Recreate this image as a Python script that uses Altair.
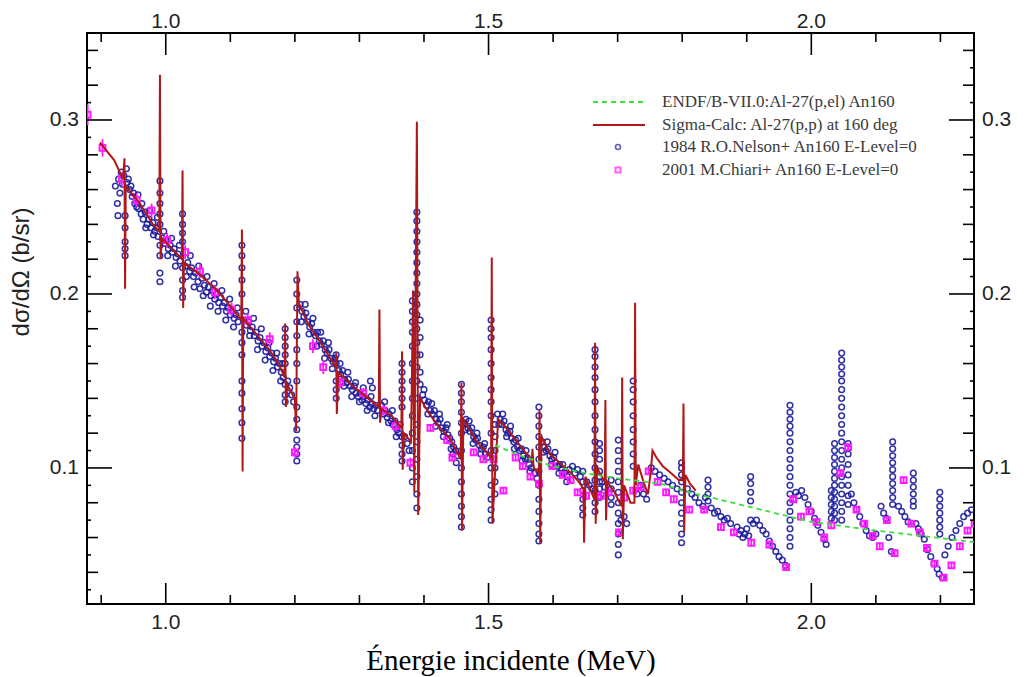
import altair as alt
import pandas as pd

# ---------------- axes / ticks ----------------
x_domain = [0.878, 2.252]
y_domain = [0.0218, 0.35]
x_major = [1.0, 1.5, 2.0]
x_labels = ["1.0", "1.5", "2.0"]
x_minor = [0.9, 1.1, 1.2, 1.3, 1.4, 1.6, 1.7, 1.8, 1.9, 2.1, 2.2]
y_major = [0.1, 0.2, 0.3]
y_labels = ["0.1", "0.2", "0.3"]
y_mid = [0.04, 0.06, 0.08, 0.12, 0.14, 0.16, 0.18, 0.22, 0.24, 0.26, 0.28, 0.32, 0.34]
y_small = [0.03, 0.05, 0.07, 0.09, 0.11, 0.13, 0.15, 0.17, 0.19, 0.21, 0.23, 0.25,
           0.27, 0.29, 0.31, 0.33]

# ---------------- ENDF/B-VII.0 (green dashed) ----------------
endf_E = [1.51, 1.55, 1.60, 1.65, 1.70, 1.767, 1.80, 1.90, 2.00, 2.10, 2.17, 2.26]
endf_s = [0.113, 0.107, 0.101, 0.097, 0.094, 0.091, 0.087, 0.078, 0.069, 0.064, 0.061, 0.057]

# ---------------- Sigma-Calc (red line) ----------------
sigma_pts = [
    (0.898, 0.287), (0.920, 0.277), (0.934, 0.266), (0.936, 0.278), (0.937, 0.203),
    (0.938, 0.262), (0.960, 0.252), (0.980, 0.240), (0.990, 0.236), (0.991, 0.326),
    (0.992, 0.220), (0.994, 0.232), (1.010, 0.226), (1.025, 0.220), (1.026, 0.271),
    (1.027, 0.192), (1.028, 0.218), (1.050, 0.212), (1.080, 0.202), (1.100, 0.193),
    (1.117, 0.185), (1.118, 0.237), (1.119, 0.098), (1.120, 0.186), (1.140, 0.177),
    (1.160, 0.168), (1.175, 0.160), (1.184, 0.152), (1.185, 0.183), (1.186, 0.135),
    (1.188, 0.148), (1.195, 0.143), (1.200, 0.140), (1.202, 0.121), (1.204, 0.213),
    (1.206, 0.195), (1.220, 0.183), (1.240, 0.172), (1.263, 0.158), (1.264, 0.166),
    (1.265, 0.131), (1.267, 0.155), (1.290, 0.147), (1.310, 0.141), (1.330, 0.135),
    (1.331, 0.191), (1.332, 0.126), (1.334, 0.134), (1.350, 0.130), (1.365, 0.123),
    (1.366, 0.167), (1.367, 0.099), (1.369, 0.120), (1.380, 0.115), (1.383, 0.202),
    (1.385, 0.086), (1.389, 0.299), (1.391, 0.073), (1.394, 0.140), (1.405, 0.133),
    (1.420, 0.125), (1.440, 0.117), (1.457, 0.105), (1.458, 0.149), (1.459, 0.064),
    (1.461, 0.128), (1.480, 0.116), (1.504, 0.106), (1.505, 0.221), (1.506, 0.068),
    (1.509, 0.090), (1.515, 0.128), (1.525, 0.124), (1.540, 0.117), (1.555, 0.110),
    (1.567, 0.104), (1.568, 0.111), (1.570, 0.100), (1.578, 0.097), (1.579, 0.133),
    (1.580, 0.057), (1.582, 0.118), (1.595, 0.108), (1.610, 0.103), (1.625, 0.098),
    (1.640, 0.092), (1.647, 0.088), (1.648, 0.057), (1.650, 0.095), (1.655, 0.090),
    (1.664, 0.082), (1.665, 0.172), (1.666, 0.068), (1.668, 0.100), (1.680, 0.092),
    (1.681, 0.139), (1.682, 0.070), (1.684, 0.092), (1.695, 0.086), (1.706, 0.078),
    (1.707, 0.152), (1.708, 0.059), (1.710, 0.090), (1.720, 0.080), (1.726, 0.080),
    (1.727, 0.195), (1.728, 0.090), (1.732, 0.102), (1.740, 0.092), (1.747, 0.085),
    (1.751, 0.097), (1.754, 0.110), (1.760, 0.106), (1.770, 0.101), (1.783, 0.097),
    (1.795, 0.093), (1.801, 0.093), (1.802, 0.137), (1.803, 0.063), (1.805, 0.096),
    (1.812, 0.091), (1.821, 0.087),
]

# ---------------- 1984 R.O.Nelson (blue open circles) ----------------
nelson_scatter = [
    (0.922, 0.262), (0.925, 0.252), (0.926, 0.245), (0.927, 0.266), (0.929, 0.258),
    (0.931, 0.270), (0.933, 0.263), (0.935, 0.268), (0.939, 0.272), (0.940, 0.264),
    (0.942, 0.266), (0.944, 0.260), (0.946, 0.262), (0.948, 0.256), (0.950, 0.258),
    (0.952, 0.252), (0.955, 0.250), (0.958, 0.249), (0.962, 0.246), (0.965, 0.243),
    (0.968, 0.247), (0.971, 0.240), (0.974, 0.243), (0.977, 0.238), (0.980, 0.241),
    (0.983, 0.236), (0.986, 0.238), (0.988, 0.233), (0.995, 0.232), (0.998, 0.229),
    (1.001, 0.231), (1.004, 0.226), (1.007, 0.228), (1.010, 0.224), (1.013, 0.226),
    (1.016, 0.221), (1.019, 0.223), (1.022, 0.219), (1.030, 0.216), (1.034, 0.218),
    (1.037, 0.213), (1.040, 0.215), (1.043, 0.210), (1.046, 0.212), (1.050, 0.207),
    (1.053, 0.203), (1.056, 0.209), (1.060, 0.205), (1.063, 0.201), (1.066, 0.204),
    (1.070, 0.199), (1.073, 0.202), (1.076, 0.197), (1.079, 0.200), (1.082, 0.195),
    (1.085, 0.198), (1.088, 0.193), (1.091, 0.195), (1.094, 0.190), (1.097, 0.192),
    (1.100, 0.188), (1.103, 0.190), (1.106, 0.186), (1.109, 0.188), (1.112, 0.184),
    (1.122, 0.185), (1.125, 0.182), (1.128, 0.184), (1.131, 0.179), (1.134, 0.181),
    (1.137, 0.176), (1.140, 0.178), (1.143, 0.173), (1.146, 0.175), (1.149, 0.170),
    (1.152, 0.172), (1.155, 0.167), (1.158, 0.169), (1.161, 0.164), (1.164, 0.166),
    (1.167, 0.161), (1.170, 0.163), (1.173, 0.158), (1.176, 0.160), (1.179, 0.155),
    (1.182, 0.152), (1.189, 0.150), (1.192, 0.146), (1.195, 0.142), (1.198, 0.138),
    (1.208, 0.194), (1.211, 0.190), (1.214, 0.187), (1.217, 0.189), (1.220, 0.184),
    (1.223, 0.181), (1.226, 0.183), (1.229, 0.178), (1.232, 0.176), (1.235, 0.178),
    (1.238, 0.173), (1.241, 0.171), (1.244, 0.173), (1.247, 0.168), (1.250, 0.166),
    (1.253, 0.168), (1.256, 0.163), (1.259, 0.161), (1.262, 0.163), (1.268, 0.156),
    (1.271, 0.154), (1.274, 0.156), (1.277, 0.151), (1.280, 0.149), (1.283, 0.151),
    (1.286, 0.147), (1.289, 0.145), (1.292, 0.147), (1.295, 0.143), (1.298, 0.141),
    (1.301, 0.143), (1.304, 0.139), (1.307, 0.141), (1.310, 0.137), (1.313, 0.139),
    (1.316, 0.135), (1.317, 0.150), (1.319, 0.137), (1.320, 0.146), (1.322, 0.134),
    (1.325, 0.136), (1.328, 0.133), (1.334, 0.136), (1.337, 0.131), (1.340, 0.133),
    (1.343, 0.129), (1.346, 0.131), (1.349, 0.127), (1.352, 0.125), (1.355, 0.127),
    (1.358, 0.122), (1.361, 0.120), (1.370, 0.118), (1.374, 0.114), (1.377, 0.110),
    (1.398, 0.142), (1.401, 0.139), (1.404, 0.136), (1.407, 0.138), (1.410, 0.133),
    (1.413, 0.131), (1.416, 0.133), (1.419, 0.128), (1.422, 0.126), (1.425, 0.128),
    (1.428, 0.123), (1.431, 0.121), (1.434, 0.123), (1.437, 0.119), (1.440, 0.117),
    (1.443, 0.115), (1.445, 0.108), (1.446, 0.112), (1.449, 0.110), (1.450, 0.103),
    (1.452, 0.107), (1.462, 0.126), (1.465, 0.128), (1.468, 0.123), (1.471, 0.121),
    (1.474, 0.123), (1.477, 0.118), (1.480, 0.116), (1.483, 0.117), (1.486, 0.113),
    (1.489, 0.111), (1.492, 0.112), (1.495, 0.108), (1.498, 0.106), (1.514, 0.131),
    (1.518, 0.128), (1.521, 0.125), (1.524, 0.127), (1.527, 0.122), (1.530, 0.120),
    (1.533, 0.121), (1.536, 0.117), (1.539, 0.115), (1.542, 0.116), (1.545, 0.112),
    (1.548, 0.110), (1.551, 0.111), (1.554, 0.107), (1.557, 0.105), (1.560, 0.106),
    (1.563, 0.102), (1.566, 0.100), (1.572, 0.097), (1.575, 0.094), (1.583, 0.115),
    (1.586, 0.112), (1.589, 0.110), (1.592, 0.111), (1.595, 0.107), (1.598, 0.105),
    (1.601, 0.106), (1.604, 0.103), (1.607, 0.101), (1.610, 0.102), (1.613, 0.099),
    (1.616, 0.097), (1.619, 0.098), (1.622, 0.095), (1.625, 0.099), (1.630, 0.101),
    (1.634, 0.097), (1.638, 0.099), (1.642, 0.095), (1.652, 0.092), (1.656, 0.090),
    (1.660, 0.088), (1.676, 0.092), (1.680, 0.089), (1.705, 0.070), (1.710, 0.072),
    (1.714, 0.068), (1.730, 0.085), (1.735, 0.090), (1.740, 0.085), (1.745, 0.082),
    (1.752, 0.100), (1.758, 0.098), (1.765, 0.096), (1.772, 0.094), (1.778, 0.092),
    (1.785, 0.090), (1.792, 0.088), (1.808, 0.088), (1.815, 0.085), (1.820, 0.083),
    (1.826, 0.080), (1.832, 0.078), (1.836, 0.083), (1.845, 0.077), (1.850, 0.074),
    (1.855, 0.075), (1.860, 0.072), (1.865, 0.070), (1.870, 0.071), (1.875, 0.068),
    (1.885, 0.066), (1.888, 0.062), (1.891, 0.064), (1.894, 0.060), (1.897, 0.062),
    (1.900, 0.065), (1.903, 0.061), (1.910, 0.068), (1.915, 0.070), (1.920, 0.067),
    (1.925, 0.064), (1.930, 0.062), (1.935, 0.058), (1.940, 0.055), (1.945, 0.052),
    (1.950, 0.049), (1.955, 0.047), (1.960, 0.044), (1.972, 0.082), (1.976, 0.086),
    (1.980, 0.084), (1.985, 0.087), (1.990, 0.083), (1.995, 0.079), (2.000, 0.075),
    (2.005, 0.071), (2.010, 0.067), (2.015, 0.063), (2.020, 0.059), (2.023, 0.056),
    (2.062, 0.085), (2.066, 0.080), (2.070, 0.076), (2.075, 0.072), (2.080, 0.068),
    (2.085, 0.064), (2.090, 0.061), (2.095, 0.060), (2.100, 0.062), (2.108, 0.078),
    (2.112, 0.074), (2.116, 0.071), (2.120, 0.060), (2.124, 0.052), (2.135, 0.078),
    (2.140, 0.075), (2.145, 0.072), (2.150, 0.069), (2.162, 0.068), (2.166, 0.065),
    (2.170, 0.062), (2.175, 0.059), (2.180, 0.053), (2.185, 0.049), (2.190, 0.045),
    (2.195, 0.042), (2.198, 0.039), (2.203, 0.037), (2.207, 0.050), (2.212, 0.055),
    (2.218, 0.060), (2.224, 0.064), (2.230, 0.068), (2.236, 0.072), (2.242, 0.074),
    (2.248, 0.076),
]
# points at the edges of the thick data band
nelson_band = [
    (0.957, 0.257), (0.963, 0.252), (0.969, 0.238), (0.975, 0.248), (0.981, 0.234),
    (0.987, 0.244), (0.997, 0.236), (1.003, 0.222), (1.009, 0.232), (1.015, 0.216),
    (1.021, 0.228), (1.032, 0.210), (1.038, 0.222), (1.044, 0.204), (1.051, 0.216),
    (1.058, 0.199), (1.064, 0.210), (1.069, 0.193), (1.075, 0.206), (1.081, 0.190),
    (1.087, 0.202), (1.093, 0.185), (1.099, 0.197), (1.105, 0.181), (1.111, 0.192),
    (1.124, 0.190), (1.130, 0.176), (1.136, 0.186), (1.142, 0.168), (1.148, 0.180),
    (1.154, 0.162), (1.160, 0.172), (1.166, 0.156), (1.172, 0.166), (1.178, 0.150),
    (1.181, 0.160), (1.210, 0.184), (1.216, 0.194), (1.222, 0.177), (1.228, 0.186),
    (1.234, 0.170), (1.240, 0.178), (1.246, 0.163), (1.252, 0.172), (1.258, 0.157),
    (1.270, 0.160), (1.276, 0.147), (1.282, 0.155), (1.288, 0.141), (1.294, 0.149),
    (1.300, 0.138), (1.306, 0.146), (1.312, 0.133), (1.318, 0.141), (1.324, 0.130),
    (1.339, 0.138), (1.345, 0.126), (1.351, 0.133), (1.357, 0.118), (1.363, 0.125),
    (1.400, 0.145), (1.406, 0.131), (1.412, 0.137), (1.418, 0.124), (1.424, 0.131),
    (1.430, 0.118), (1.436, 0.125), (1.442, 0.111), (1.464, 0.122), (1.470, 0.127),
    (1.476, 0.114), (1.482, 0.120), (1.488, 0.108), (1.494, 0.114), (1.516, 0.125),
    (1.522, 0.131), (1.528, 0.118), (1.534, 0.124), (1.540, 0.111), (1.546, 0.117),
    (1.552, 0.104), (1.558, 0.110), (1.564, 0.098), (1.585, 0.109), (1.591, 0.115),
    (1.597, 0.102), (1.603, 0.109), (1.609, 0.097), (1.615, 0.102), (1.621, 0.092),
]
# vertical runs of points across the resonances: (energy, [cross sections])
nelson_columns = [
    (0.937, [0.245, 0.238, 0.230, 0.226, 0.222]),
    (0.991, [0.265, 0.258, 0.252, 0.246, 0.240, 0.228, 0.222, 0.212, 0.207]),
    (1.026, [0.246, 0.240, 0.235, 0.230, 0.215, 0.208, 0.202, 0.198]),
    (1.118, [0.228, 0.222, 0.215, 0.208, 0.200, 0.178, 0.172, 0.165, 0.150, 0.143,
             0.134, 0.126, 0.117]),
    (1.185, [0.180, 0.175, 0.170, 0.165, 0.160, 0.148, 0.142, 0.138]),
    (1.203, [0.208, 0.200, 0.192, 0.184, 0.176, 0.168, 0.160, 0.150, 0.135, 0.128,
             0.122, 0.116, 0.112, 0.108, 0.104]),
    (1.264, [0.165, 0.160, 0.150, 0.145, 0.140]),
    (1.366, [0.160, 0.155, 0.150, 0.145, 0.140, 0.135, 0.118, 0.113, 0.108, 0.104]),
    (1.382, [0.196, 0.190, 0.184, 0.178, 0.170, 0.160, 0.150, 0.140, 0.130, 0.120,
             0.110, 0.100, 0.092]),
    (1.389, [0.247, 0.242, 0.236, 0.230, 0.224, 0.218, 0.212, 0.206, 0.200, 0.194,
             0.188, 0.180, 0.172, 0.165, 0.158, 0.150, 0.140, 0.125, 0.115, 0.105,
             0.095, 0.085, 0.077]),
    (1.394, [0.185, 0.175, 0.165, 0.155, 0.148]),
    (1.458, [0.148, 0.143, 0.138, 0.132, 0.126, 0.120, 0.110, 0.100, 0.092, 0.085,
             0.078, 0.072, 0.066]),
    (1.504, [0.185, 0.180, 0.175, 0.168, 0.160, 0.152, 0.145, 0.138, 0.130, 0.120,
             0.110, 0.100, 0.090, 0.082, 0.076, 0.070]),
    (1.510, [0.125, 0.118, 0.110, 0.100, 0.092, 0.085]),
    (1.578, [0.135, 0.130, 0.124, 0.118, 0.112, 0.105, 0.098, 0.090, 0.082, 0.075,
             0.068, 0.062, 0.058]),
    (1.646, [0.098, 0.092, 0.087, 0.082, 0.077, 0.073]),
    (1.665, [0.168, 0.164, 0.158, 0.152, 0.145, 0.138, 0.130, 0.122, 0.115, 0.108,
             0.100, 0.093, 0.087, 0.080, 0.075]),
    (1.672, [0.114, 0.110, 0.105, 0.098, 0.092, 0.088, 0.083]),
    (1.690, [0.093, 0.088, 0.083, 0.079]),
    (1.701, [0.116, 0.110, 0.104, 0.098, 0.092, 0.086, 0.080, 0.074, 0.068, 0.062,
             0.056, 0.050]),
    (1.724, [0.150, 0.145, 0.138, 0.130, 0.122, 0.115, 0.108, 0.101]),
    (1.799, [0.103, 0.100, 0.096, 0.092, 0.086, 0.080, 0.074, 0.068, 0.062, 0.057]),
    (1.840, [0.093, 0.089, 0.085, 0.081]),
    (1.906, [0.095, 0.091, 0.086, 0.081, 0.070]),
    (1.967, [0.136, 0.132, 0.128, 0.124, 0.120, 0.115, 0.110, 0.105, 0.100, 0.095,
             0.090, 0.085, 0.080, 0.075, 0.070, 0.065, 0.060, 0.055]),
    (2.031, [0.087, 0.083, 0.079, 0.075, 0.071]),
    (2.036, [0.114, 0.110, 0.106, 0.102, 0.098, 0.094, 0.090, 0.086, 0.082, 0.078,
             0.074, 0.070]),
    (2.047, [0.166, 0.162, 0.158, 0.154, 0.150, 0.145, 0.140, 0.135, 0.130, 0.125,
             0.120, 0.115, 0.110, 0.105, 0.100, 0.095, 0.090, 0.085, 0.080, 0.075,
             0.070]),
    (2.057, [0.114, 0.108, 0.102, 0.096, 0.090, 0.084, 0.079]),
    (2.126, [0.115, 0.111, 0.107, 0.103, 0.099, 0.095, 0.091, 0.087, 0.083, 0.079]),
    (2.158, [0.097, 0.093, 0.089, 0.085, 0.081, 0.078]),
    (2.199, [0.086, 0.082, 0.078, 0.074, 0.070, 0.066, 0.062]),
]

# ---------------- 2001 M.Chiari (magenta open squares) ----------------
chiari_E = [0.879, 0.902, 0.932, 0.955, 0.978, 1.002, 1.030, 1.053, 1.076, 1.102,
            1.127, 1.161, 1.200, 1.228, 1.244, 1.270, 1.306, 1.337, 1.356, 1.379,
            1.410, 1.436, 1.444, 1.477, 1.492, 1.508, 1.523, 1.542, 1.553, 1.565,
            1.578, 1.599, 1.615, 1.627, 1.638, 1.651, 1.674, 1.686, 1.702, 1.710,
            1.724, 1.736, 1.748, 1.762, 1.775, 1.787, 1.811, 1.834, 1.860, 1.880,
            1.907, 1.935, 1.961, 1.972, 1.984, 1.997, 2.008, 2.020, 2.031, 2.045,
            2.057, 2.070, 2.082, 2.095, 2.106, 2.117, 2.129, 2.143, 2.155, 2.168,
            2.179, 2.191, 2.205, 2.217, 2.230, 2.242, 2.253]
chiari_s = [0.303, 0.284, 0.266, 0.254, 0.248, 0.231, 0.224, 0.213, 0.201, 0.191,
            0.185, 0.174, 0.109, 0.170, 0.158, 0.149, 0.143, 0.133, 0.124, 0.103,
            0.123, 0.116, 0.106, 0.109, 0.105, 0.105, 0.087, 0.106, 0.101, 0.095,
            0.091, 0.101, 0.096, 0.093, 0.086, 0.084, 0.084, 0.086, 0.063, 0.083,
            0.087, 0.089, 0.098, 0.092, 0.086, 0.082, 0.076, 0.076, 0.066, 0.063,
            0.057, 0.056, 0.043, 0.082, 0.072, 0.075, 0.069, 0.060, 0.067, 0.097,
            0.112, 0.076, 0.068, 0.061, 0.055, 0.070, 0.051, 0.093, 0.068, 0.063,
            0.054, 0.045, 0.037, 0.044, 0.055, 0.064, 0.068]
chiari_err = [0.006, 0.005, 0.004, 0.004, 0.004, 0.004, 0.004, 0.004, 0.004, 0.004,
              0.004, 0.004, 0.003, 0.004, 0.004, 0.003, 0.003, 0.003, 0.003, 0.003,
              0.002, 0.002, 0.002, 0.002, 0.002, 0.002, 0.002, 0.002, 0.002, 0.002,
              0.002, 0.002, 0.002, 0.002, 0.002, 0.002, 0.002, 0.002, 0.002, 0.002,
              0.002, 0.002, 0.002, 0.002, 0.002, 0.002, 0.002, 0.002, 0.002, 0.002,
              0.002, 0.002, 0.002, 0.002, 0.002, 0.002, 0.002, 0.002, 0.002, 0.002,
              0.002, 0.002, 0.002, 0.002, 0.002, 0.002, 0.002, 0.002, 0.002, 0.002,
              0.002, 0.002, 0.002, 0.002, 0.002, 0.002, 0.002]

legend_labels = ["ENDF/B-VII.0:Al-27(p,el) An160",
                 "Sigma-Calc: Al-27(p,p) at 160 deg",
                 "1984 R.O.Nelson+ An160 E-Level=0",
                 "2001 M.Chiari+ An160  E-Level=0"]

# ---------------- build tables ----------------
nel_pairs = nelson_scatter + nelson_band
nel_E = [e for e, s in nel_pairs] + [e for e, col in nelson_columns for _ in col]
nel_s = [s for e, s in nel_pairs] + [s for e, col in nelson_columns for s in col]
nel_df = pd.DataFrame({"E": nel_E, "s": nel_s})
sig_df = pd.DataFrame({"E": [p[0] for p in sigma_pts], "s": [p[1] for p in sigma_pts],
                       "i": list(range(len(sigma_pts)))})
endf_df = pd.DataFrame({"E": endf_E, "s": endf_s})
chi_df = pd.DataFrame({"E": chiari_E, "s": chiari_s,
                       "lo": [s - e for s, e in zip(chiari_s, chiari_err)],
                       "hi": [s + e for s, e in zip(chiari_s, chiari_err)]})

W, H = 887, 571
xs = alt.Scale(domain=x_domain, nice=False, zero=False)
ys = alt.Scale(domain=y_domain, nice=False, zero=False)


def X(f):
    return alt.X(f, type="quantitative", scale=xs, axis=None)


def Y(f):
    return alt.Y(f, type="quantitative", scale=ys, axis=None)


NAVY = "#1c1c9e"
PINK = "#ff1aff"
RED = "#b01818"
GREEN = "#3ddc3d"

nelson = alt.Chart(nel_df).mark_point(
    shape="circle", filled=False, size=32, strokeWidth=1.5, color=NAVY, opacity=0.9,
    clip=True
).encode(x=X("E"), y=Y("s"))

chiari_bars = alt.Chart(chi_df).mark_rule(color=PINK, strokeWidth=1.8, clip=True).encode(
    x=X("E"), y=Y("lo"), y2="hi")
chiari = alt.Chart(chi_df).mark_point(
    shape="square", filled=False, size=34, strokeWidth=2, color=PINK, opacity=1,
    clip=True
).encode(x=X("E"), y=Y("s"))

sigma = alt.Chart(sig_df).mark_line(color=RED, strokeWidth=2, clip=True).encode(
    x=X("E"), y=Y("s"), order="i:Q")
endf = alt.Chart(endf_df).mark_line(
    color=GREEN, strokeDash=[5, 4], strokeWidth=1.8, clip=True
).encode(x=X("E"), y=Y("s"))

# ---------------- ticks (inward, like the original) ----------------
xmaj_df = pd.DataFrame({"v": x_major, "lbl": x_labels})
xmin_df = pd.DataFrame({"v": x_minor})
ymaj_df = pd.DataFrame({"v": y_major, "lbl": y_labels})
ymid_df = pd.DataFrame({"v": y_mid})
ysml_df = pd.DataFrame({"v": y_small})

tick = dict(color="black", strokeWidth=1.6)
ticks = [
    alt.Chart(xmaj_df).mark_rule(**tick).encode(x=X("v"), y=alt.value(H), y2=alt.value(H - 21)),
    alt.Chart(xmaj_df).mark_rule(**tick).encode(x=X("v"), y=alt.value(0), y2=alt.value(22)),
    alt.Chart(xmin_df).mark_rule(**tick).encode(x=X("v"), y=alt.value(H), y2=alt.value(H - 9)),
    alt.Chart(xmin_df).mark_rule(**tick).encode(x=X("v"), y=alt.value(0), y2=alt.value(9)),
    alt.Chart(ymaj_df).mark_rule(**tick).encode(y=Y("v"), x=alt.value(0), x2=alt.value(25)),
    alt.Chart(ymaj_df).mark_rule(**tick).encode(y=Y("v"), x=alt.value(W), x2=alt.value(W - 25)),
    alt.Chart(ymid_df).mark_rule(**tick).encode(y=Y("v"), x=alt.value(0), x2=alt.value(11)),
    alt.Chart(ymid_df).mark_rule(**tick).encode(y=Y("v"), x=alt.value(W), x2=alt.value(W - 11)),
    alt.Chart(ysml_df).mark_rule(**tick).encode(y=Y("v"), x=alt.value(0), x2=alt.value(4)),
    alt.Chart(ysml_df).mark_rule(**tick).encode(y=Y("v"), x=alt.value(W), x2=alt.value(W - 4)),
]

lab = dict(font="Liberation Sans", fontSize=21, color="#222222", baseline="middle")
labels = [
    alt.Chart(xmaj_df).mark_text(align="center", **lab).encode(
        x=X("v"), y=alt.value(H + 19), text="lbl:N"),
    alt.Chart(xmaj_df).mark_text(align="center", **lab).encode(
        x=X("v"), y=alt.value(-11), text="lbl:N"),
    alt.Chart(ymaj_df).mark_text(align="right", **lab).encode(
        y=Y("v"), x=alt.value(-8), text="lbl:N"),
    alt.Chart(ymaj_df).mark_text(align="left", **lab).encode(
        y=Y("v"), x=alt.value(W + 8), text="lbl:N"),
]

one = pd.DataFrame({"k": [0]})
titles = [
    alt.Chart(one).mark_text(font="Liberation Serif", fontSize=29, color="black",
                             align="center", baseline="middle").encode(
        x=alt.value(424), y=alt.value(628), text=alt.value("Énergie incidente (MeV)")),
    alt.Chart(one).mark_text(font="Liberation Sans", fontSize=24, color="#222222",
                             align="center", baseline="middle", angle=270).encode(
        x=alt.value(-65), y=alt.value(239), text=alt.value("dσ/dΩ (b/sr)")),
]

# ---------------- legend (inside, upper right) ----------------
lx0, lx1, lxs, lxt = 506, 558, 531, 575
rows = [69, 92, 114, 137]
leg_txt = dict(font="Liberation Serif", fontSize=17, color="#3a3a3a", align="left",
               baseline="middle")
legend = [
    alt.Chart(one).mark_rule(color=GREEN, strokeDash=[5, 4], strokeWidth=1.8).encode(
        x=alt.value(lx0), x2=alt.value(lx1), y=alt.value(rows[0])),
    alt.Chart(one).mark_rule(color=RED, strokeWidth=2).encode(
        x=alt.value(lx0), x2=alt.value(lx1), y=alt.value(rows[1])),
    alt.Chart(one).mark_point(shape="circle", filled=False, size=24, strokeWidth=1.6,
                              color=NAVY).encode(x=alt.value(lxs), y=alt.value(rows[2])),
    alt.Chart(one).mark_point(shape="square", filled=False, size=26, strokeWidth=2,
                              color=PINK).encode(x=alt.value(lxs), y=alt.value(rows[3])),
]
for r, t in zip(rows, legend_labels):
    legend.append(alt.Chart(one).mark_text(**leg_txt).encode(
        x=alt.value(lxt), y=alt.value(r), text=alt.value(t)))

chart = alt.layer(
    nelson, chiari_bars, chiari, sigma, endf, *ticks, *labels, *titles, *legend
).properties(
    width=W, height=H,
    autosize=alt.AutoSizeParams(type="none"),
    padding={"left": 87, "top": 33, "right": 52, "bottom": 73},
    background="white",
).configure_view(stroke="black", strokeWidth=2)

chart.save("out.html", embed_options={"renderer": "svg", "actions": False})
